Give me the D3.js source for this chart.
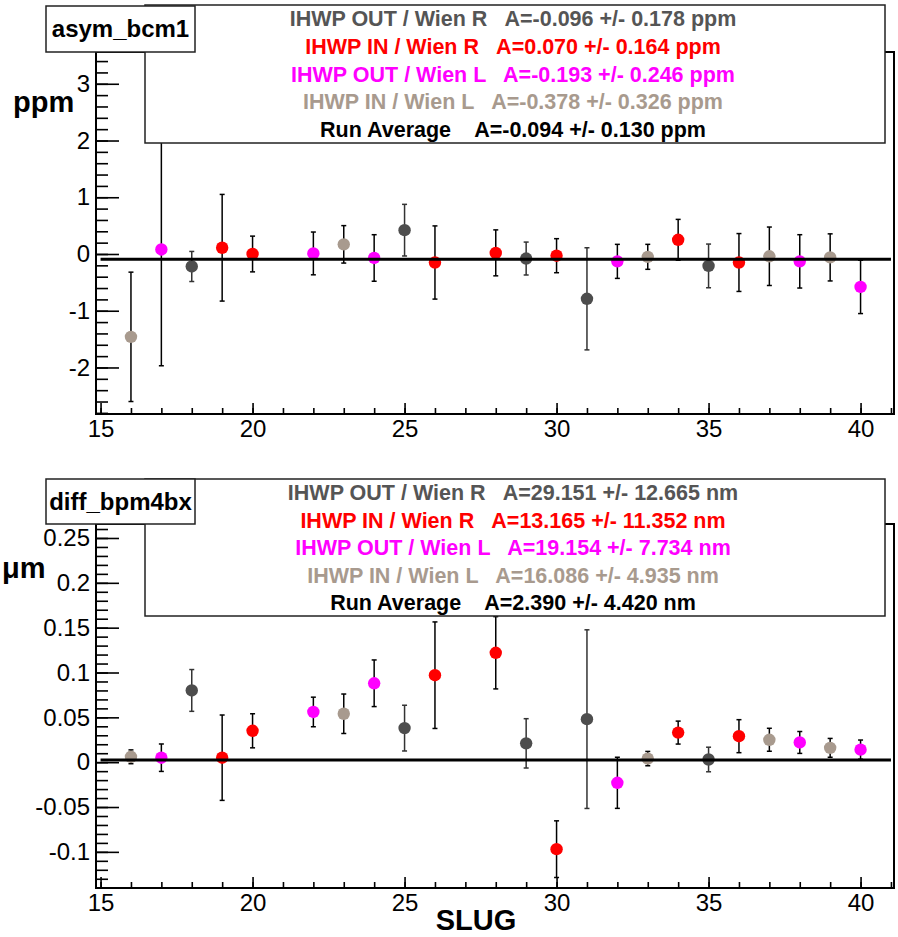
<!DOCTYPE html>
<html><head><meta charset="utf-8">
<script src="https://cdn.jsdelivr.net/npm/d3@7"></script>
<style>
html,body{margin:0;padding:0;background:#fff;}
svg{display:block;font-family:"Liberation Sans",Arial,Helvetica,sans-serif;}
</style></head>
<body>
<svg id="c" width="898" height="937"></svg>
<script>
// ---- data ----
const slugs = [16,17,18,19,20,22,23,24,25,26,28,29,30,31,32,33,34,35,36,37,38,39,40];
// series index: 0 = IHWP OUT / Wien R, 1 = IHWP IN / Wien R, 2 = IHWP OUT / Wien L, 3 = IHWP IN / Wien L
const seriesOf = [3,2,0,1,1,2,3,2,0,1,1,0,1,0,2,3,1,0,1,3,2,3,2];
const seriesNames = ["IHWP OUT / Wien R","IHWP IN / Wien R","IHWP OUT / Wien L","IHWP IN / Wien L","Run Average"];
const seriesColors = ["#4d4d4d","#ff0000","#ff00ff","#a89a8e","#000000"];
const legendTextColors = ["#555555","#ff0000","#ff00ff","#a89a8e","#000000"];

const bcm1Vals = [-1.46,0.08,-0.22,0.11,0.00,0.01,0.17,-0.07,0.42,-0.15,0.02,-0.08,-0.03,-0.79,-0.13,-0.05,0.25,-0.21,-0.15,-0.04,-0.13,-0.06,-0.58];
const bcm1Errs = [1.14,2.05,0.265,0.94,0.315,0.377,0.33,0.41,0.455,0.645,0.405,0.29,0.30,0.90,0.30,0.22,0.36,0.385,0.51,0.515,0.47,0.415,0.47];
const bcm1Avg = ["A=-0.096 +/- 0.178 ppm","A=0.070 +/- 0.164 ppm","A=-0.193 +/- 0.246 ppm","A=-0.378 +/- 0.326 ppm","A=-0.094 +/- 0.130 ppm"];
const bcm1RunAvg = -0.094;
const bcm1YTicks = [-2,-1,0,1,2,3];

const bpmVals = [0.006,0.005,0.080,0.005,0.035,0.056,0.054,0.088,0.038,0.097,0.122,0.021,-0.097,0.048,-0.023,0.004,0.033,0.003,0.029,0.025,0.022,0.016,0.014];
const bpmErrs = [0.0077,0.0153,0.0233,0.0476,0.019,0.0165,0.022,0.026,0.0255,0.0594,0.0403,0.0275,0.0316,0.0996,0.0285,0.008,0.0128,0.0137,0.0184,0.0128,0.0122,0.0105,0.0107];
const bpmAvg = ["A=29.151 +/- 12.665 nm","A=13.165 +/- 11.352 nm","A=19.154 +/- 7.734 nm","A=16.086 +/- 4.935 nm","A=2.390 +/- 4.420 nm"];
const bpmRunAvg = 0.00239;
const bpmYTicks = [-0.1,-0.05,0,0.05,0.1,0.15,0.2,0.25];

const xTicks = [15,20,25,30,35,40];
const xLabel = "SLUG";

// ---- layout ----
const svg = d3.select("#c");
const L = 96, R = 894;
const x = d3.scaleLinear().domain([14.85, 41.1]).range([L, R]);
const font = '"Liberation Sans",Arial,Helvetica,sans-serif';

const panels = [
  {title:"asym_bcm1", ylab:"ppm", top:52, bottom:414, ydom:[-2.82,3.56], minor:0.2,
   vals:bcm1Vals, errs:bcm1Errs, avgText:bcm1Avg, runAvg:bcm1RunAvg, yTicks:bcm1YTicks,
   leg:{x:145,y:5,w:740,h:138}, tbox:{x:46,y:6,w:149,h:46}, ylabPos:[13,112]},
  {title:"diff_bpm4bx", ylab:"\u03bcm", top:524, bottom:888, ydom:[-0.1403,0.2656], minor:0.01,
   vals:bpmVals, errs:bpmErrs, avgText:bpmAvg, runAvg:bpmRunAvg, yTicks:bpmYTicks,
   leg:{x:145,y:479,w:740,h:137}, tbox:{x:46,y:479,w:149,h:45}, ylabPos:[2,578]}
];

const fmt = d => String(+d.toFixed(3));

panels.forEach((p, pi) => {
  const y = d3.scaleLinear().domain(p.ydom).range([p.bottom, p.top]);
  const g = svg.append("g");
  const clipId = "clip"+pi;
  svg.append("defs").append("clipPath").attr("id", clipId)
    .append("rect").attr("x", L).attr("y", p.top).attr("width", R-L).attr("height", p.bottom-p.top);

  // minor y ticks
  const nMin = Math.ceil(p.ydom[0]/p.minor - 1e-9), nMax = Math.floor(p.ydom[1]/p.minor + 1e-9);
  const yMinor = d3.range(nMin, nMax+1).map(i => +(i*p.minor).toFixed(4));
  const gyMin = g.append("g").attr("transform",`translate(${L},0)`)
    .call(d3.axisRight(y).tickValues(yMinor).tickSize(12).tickFormat(""));
  gyMin.select(".domain").remove();
  const gyMaj = g.append("g").attr("transform",`translate(${L},0)`)
    .call(d3.axisRight(y).tickValues(p.yTicks).tickSize(23).tickFormat(""));
  gyMaj.select(".domain").remove();
  g.selectAll(".tick line").attr("stroke","#000").attr("stroke-width",1.6);

  const gyLab = g.append("g").attr("transform",`translate(${L},0)`)
    .call(d3.axisLeft(y).tickValues(p.yTicks).tickSize(0).tickPadding(6).tickFormat(fmt));
  gyLab.select(".domain").remove();
  gyLab.selectAll("text").attr("font-size",24).attr("font-family",font).attr("fill","#000");

  // x ticks
  const xMinor = d3.range(15, 42);
  const gxMin = g.append("g").attr("transform",`translate(0,${p.bottom})`)
    .call(d3.axisTop(x).tickValues(xMinor).tickSize(6).tickFormat(""));
  gxMin.select(".domain").remove();
  const gxMaj = g.append("g").attr("transform",`translate(0,${p.bottom})`)
    .call(d3.axisTop(x).tickValues(xTicks).tickSize(11).tickFormat(""));
  gxMaj.select(".domain").remove();
  gxMin.selectAll(".tick line").attr("stroke","#000").attr("stroke-width",1.6);
  gxMaj.selectAll(".tick line").attr("stroke","#000").attr("stroke-width",1.6);
  const gxLab = g.append("g").attr("transform",`translate(0,${p.bottom})`)
    .call(d3.axisBottom(x).tickValues(xTicks).tickSize(0).tickPadding(6).tickFormat(d3.format("d")));
  gxLab.select(".domain").remove();
  gxLab.selectAll("text").attr("font-size",24).attr("font-family",font).attr("fill","#000");

  // frame
  g.append("rect").attr("x",L).attr("y",p.top).attr("width",R-L).attr("height",p.bottom-p.top)
    .attr("fill","none").attr("stroke","#000").attr("stroke-width",2);

  // data
  const pts = slugs.map((s,i)=>({s, v:p.vals[i], e:p.errs[i], k:seriesOf[i]}));
  const dg = g.append("g").attr("clip-path",`url(#${clipId})`);
  const eb = dg.selectAll("g.eb").data(pts).join("g").attr("class","eb")
    .attr("stroke", d => d.k===0 ? "#333" : "#000").attr("stroke-width",1.5);
  eb.append("line").attr("x1",d=>x(d.s)).attr("x2",d=>x(d.s)).attr("y1",d=>y(d.v-d.e)).attr("y2",d=>y(d.v+d.e));
  eb.append("line").attr("x1",d=>x(d.s)-2.5).attr("x2",d=>x(d.s)+2.5).attr("y1",d=>y(d.v-d.e)).attr("y2",d=>y(d.v-d.e));
  eb.append("line").attr("x1",d=>x(d.s)-2.5).attr("x2",d=>x(d.s)+2.5).attr("y1",d=>y(d.v+d.e)).attr("y2",d=>y(d.v+d.e));
  dg.selectAll("circle").data(pts).join("circle")
    .attr("cx",d=>x(d.s)).attr("cy",d=>y(d.v)).attr("r",6.2).attr("fill",d=>seriesColors[d.k]);

  // run average line
  g.append("line").attr("x1",x(15)).attr("x2",x(41)).attr("y1",y(p.runAvg)).attr("y2",y(p.runAvg))
    .attr("stroke","#000").attr("stroke-width",3);

  // legend box
  g.append("rect").attr("x",p.leg.x).attr("y",p.leg.y).attr("width",p.leg.w).attr("height",p.leg.h)
    .attr("fill","#fff").attr("stroke","#222").attr("stroke-width",1.5);
  const lh = p.leg.h/5;
  const gaps = ["   ","   ","   ","   ","    "];
  seriesNames.forEach((nm,i)=>{
    g.append("text").attr("x",p.leg.x+p.leg.w/2-2).attr("y",p.leg.y+lh*(i+0.5)+7.6)
      .attr("text-anchor","middle").attr("font-size",21.5).attr("font-weight","bold")
      .attr("font-family",font).attr("fill",legendTextColors[i]).attr("xml:space","preserve")
      .style("white-space","pre")
      .text(nm+gaps[i]+p.avgText[i]);
  });

  // title box
  g.append("rect").attr("x",p.tbox.x).attr("y",p.tbox.y).attr("width",p.tbox.w).attr("height",p.tbox.h)
    .attr("fill","#fff").attr("stroke","#222").attr("stroke-width",1.5);
  g.append("text").attr("x",p.tbox.x+p.tbox.w/2).attr("y",p.tbox.y+p.tbox.h/2+8)
    .attr("text-anchor","middle").attr("font-size",24).attr("font-weight","bold")
    .attr("font-family",font).attr("fill","#000").text(p.title);

  // y label
  g.append("text").attr("x",p.ylabPos[0]).attr("y",p.ylabPos[1])
    .attr("font-size",29).attr("font-weight","bold").attr("font-family",font).attr("fill","#000").text(p.ylab);
});

svg.append("text").attr("x",476).attr("y",930).attr("text-anchor","middle")
  .attr("font-size",29).attr("font-weight","bold").attr("font-family",font).attr("fill","#000").text(xLabel);
</script>
</body></html>
